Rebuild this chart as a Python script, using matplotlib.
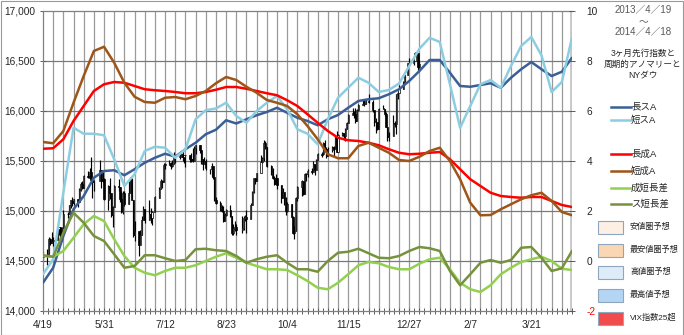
"""
NY Dow daily candles with 3-month leading index lines and cycle anomaly lines.
"""

import matplotlib
matplotlib.use("Agg")

import matplotlib.pyplot as plt
import numpy as np
import pandas as pd
from matplotlib.lines import Line2D
from matplotlib.patches import Rectangle

plt.rcParams["font.family"] = ["Liberation Sans", "Noto Sans CJK JP", "DejaVu Sans"]

# ==============================================================
# Data
# ==============================================================

START = pd.Timestamp("2013-04-19")
N_WEEKS = 52
HOLIDAYS = ["2013-05-27", "2013-07-04", "2013-09-02", "2013-11-28", "2013-12-25", "2014-01-01"]
PREV_CLOSE = 14537

# NY Dow daily close / high / low, 2013-04-19 .. 2014-01-03
dow_close = [
    14547, 14567, 14719, 14676, 14700, 14712, 14818, 14840,
    14700, 14831, 14973, 14968, 15056, 15105, 15083, 15118, 15091, 15215, 15275, 15233, 15354,
    15335, 15388, 15307, 15294, 15303, 15409, 15302, 15324, 15115,
    15254, 15177, 14960, 15040, 15248, 15239, 15122, 14995, 15176, 15070, 15180, 15318, 15112,
    14758, 14800, 14659, 14760, 14910, 15024, 14910,
    14975, 14932, 14988, 15135, 15225, 15300, 15291, 15461, 15464, 15484, 15452, 15471, 15548,
    15543, 15545, 15568, 15543, 15556, 15559, 15521, 15520, 15500,
    15628, 15658, 15612, 15519, 15471, 15498, 15425, 15419, 15451, 15337, 15112, 15081, 15010,
    15002, 14897, 14963, 15010, 14946, 14776, 14825, 14840, 14810,
    14834, 14930, 14938, 14922, 15063, 15191, 15327, 15300, 15376, 15494, 15529, 15677, 15636,
    15451, 15401, 15334, 15273, 15328, 15258, 15130,
    15192, 15133, 14997, 15073, 14936, 14776, 14803, 15127, 15237, 15301, 15168, 15374, 15372,
    15399, 15392, 15467, 15413, 15509, 15570, 15568, 15680, 15618, 15546,
    15615, 15639, 15618, 15747, 15594, 15761, 15783, 15751, 15822, 15876, 15962, 15976, 15968,
    15900, 16010, 16065, 16073, 16073, 16097, 16086,
    16008, 15915, 15889, 15822, 16020, 16025, 15973, 15844, 15740, 15755, 15885, 15875, 16168,
    16179, 16221, 16294, 16358, 16479, 16479, 16505, 16577,
    16441, 16470,
]
dow_high = [
    14600, 14620, 14740, 14730, 14790, 14740, 14840, 14845,
    14840, 14845, 15010, 14990, 15060, 15110, 15145, 15125, 15125, 15230, 15290, 15300, 15360,
    15400, 15430, 15542, 15307, 15310, 15510, 15409, 15390, 15330,
    15260, 15330, 15177, 15050, 15260, 15320, 15239, 15200, 15200, 15200, 15300, 15340, 15330,
    15112, 14900, 14800, 14810, 14950, 15050, 15024,
    15110, 15030, 15000, 15150, 15240, 15320, 15310, 15480, 15480, 15510, 15490, 15510, 15590,
    15550, 15570, 15600, 15600, 15560, 15560, 15559, 15580, 15630,
    15650, 15660, 15660, 15612, 15519, 15540, 15520, 15425, 15480, 15451, 15337, 15140, 15100,
    15060, 15050, 14980, 15020, 15060, 14946, 14870, 14900, 14870,
    14950, 14950, 14960, 15010, 15080, 15200, 15330, 15330, 15380, 15560, 15540, 15709, 15700,
    15640, 15460, 15430, 15350, 15370, 15328, 15258,
    15230, 15192, 15140, 15090, 15073, 14950, 14850, 15140, 15250, 15310, 15301, 15380, 15380,
    15420, 15430, 15500, 15467, 15520, 15580, 15590, 15690, 15710, 15640,
    15640, 15650, 15650, 15760, 15800, 15770, 15790, 15783, 15830, 15890, 15970, 16030, 16000,
    16030, 16020, 16070, 16110, 16110, 16110, 16175,
    16110, 16008, 15930, 15890, 16030, 16060, 16025, 15990, 15844, 15790, 15960, 15900, 16170,
    16200, 16260, 16300, 16360, 16480, 16530, 16510, 16590,
    16570, 16500,
]
dow_low = [
    14490, 14460, 14567, 14660, 14676, 14650, 14712, 14760,
    14690, 14700, 14831, 14930, 14968, 15030, 15050, 15060, 15040, 15091, 15200, 15220, 15233,
    15330, 15330, 15280, 15130, 15200, 15303, 15230, 15290, 15110,
    15010, 15120, 14940, 14840, 15040, 15200, 15090, 14980, 14975, 15050, 15070, 15180, 15110,
    14740, 14700, 14551, 14659, 14760, 14910, 14880,
    14910, 14880, 14860, 14988, 15135, 15225, 15230, 15291, 15420, 15460, 15420, 15440, 15471,
    15480, 15520, 15540, 15500, 15480, 15440, 15490, 15490, 15490,
    15500, 15570, 15580, 15470, 15410, 15471, 15410, 15370, 15350, 15320, 15100, 15070, 15000,
    14990, 14890, 14897, 14950, 14940, 14760, 14760, 14800, 14760,
    14780, 14810, 14900, 14780, 14922, 15063, 15180, 15270, 15300, 15376, 15480, 15500, 15620,
    15440, 15360, 15320, 15260, 15273, 15220, 15080,
    15130, 15060, 14960, 14990, 14930, 14770, 14720, 14803, 15100, 15150, 15160, 15168, 15300,
    15340, 15370, 15392, 15360, 15413, 15509, 15540, 15568, 15600, 15530,
    15546, 15590, 15550, 15618, 15590, 15594, 15750, 15710, 15700, 15822, 15876, 15960, 15930,
    15880, 15900, 16000, 16060, 16050, 16073, 16080,
    15990, 15850, 15780, 15810, 15822, 16020, 15950, 15840, 15700, 15700, 15755, 15840, 15770,
    16120, 16179, 16221, 16294, 16358, 16470, 16460, 16500,
    16410, 16430,
]

# Weekly index lines (right axis), week 0 .. 52
long_s = [
    -0.87, -0.27, 1.00, 2.07, 2.60, 3.33, 3.60, 3.63, 3.43, 3.67, 3.93, 4.13, 4.29, 4.17,
    4.47, 4.73, 5.07, 5.25, 5.63, 5.50, 5.67, 5.83, 5.96, 6.13, 5.93, 5.73, 5.60, 5.43,
    5.67, 5.84, 6.13, 6.40, 6.47, 6.51, 6.67, 6.87, 7.20, 7.60, 8.04, 8.04, 7.53, 7.00,
    6.97, 7.04, 7.11, 6.93, 7.33, 7.67, 7.96, 7.67, 7.40, 7.57, 8.13,
]
short_s = [
    -0.53, 0.07, 2.73, 5.33, 5.09, 5.09, 5.03, 4.07, 3.00, 3.47, 4.40, 4.57, 4.53, 4.13,
    4.47, 5.67, 6.03, 6.10, 6.33, 5.80, 5.53, 6.00, 6.33, 6.60, 6.07, 5.27, 5.09, 4.67,
    5.67, 6.53, 6.93, 7.33, 7.13, 6.76, 6.84, 7.10, 7.80, 8.49, 8.93, 8.76, 7.07, 5.33,
    6.20, 7.07, 7.24, 6.93, 7.80, 8.60, 8.96, 8.23, 6.76, 7.16, 8.93,
]
long_g = [
    4.49, 4.51, 4.87, 5.60, 6.20, 6.80, 7.07, 7.16, 7.13, 7.00, 6.87, 6.83, 6.80, 6.76,
    6.71, 6.71, 6.76, 6.85, 6.96, 6.96, 6.89, 6.80, 6.71, 6.63, 6.43, 6.20, 5.87, 5.53,
    5.20, 4.93, 4.83, 4.80, 4.73, 4.63, 4.47, 4.33, 4.27, 4.29, 4.33, 4.36, 4.07, 3.67,
    3.27, 3.00, 2.73, 2.60, 2.56, 2.53, 2.56, 2.56, 2.40, 2.24, 2.16,
]
short_g = [
    4.76, 4.71, 5.20, 6.33, 7.40, 8.40, 8.57, 7.93, 7.13, 6.57, 6.36, 6.33, 6.53, 6.56,
    6.47, 6.60, 6.80, 7.11, 7.36, 7.24, 6.97, 6.73, 6.44, 6.33, 6.20, 5.87, 5.40, 4.87,
    4.27, 4.11, 4.11, 4.60, 4.73, 4.53, 4.33, 4.04, 4.00, 4.17, 4.40, 4.53, 4.00, 3.27,
    2.33, 1.83, 1.84, 2.07, 2.27, 2.47, 2.63, 2.73, 2.40, 1.96, 1.83,
]
diff_g = [
    0.20, 0.17, 0.40, 0.93, 1.47, 1.80, 1.60, 0.87, 0.20, -0.27, -0.47, -0.57, -0.40, -0.27,
    -0.27, -0.17, 0.00, 0.17, 0.31, 0.13, -0.07, -0.20, -0.33, -0.33, -0.36, -0.57, -0.80, -1.07,
    -1.13, -0.87, -0.53, -0.17, -0.04, -0.09, -0.24, -0.33, -0.33, -0.11, 0.07, 0.13, -0.33, -0.87,
    -1.13, -1.24, -0.97, -0.53, -0.27, -0.04, 0.07, 0.17, 0.00, -0.31, -0.36,
]
diff_s = [
    0.23, 0.17, 1.13, 1.93, 1.53, 1.00, 0.80, 0.27, -0.27, -0.20, 0.23, 0.23, 0.11, 0.00,
    0.04, 0.47, 0.49, 0.43, 0.40, 0.20, -0.07, 0.07, 0.17, 0.23, -0.07, -0.33, -0.33, -0.43,
    0.00, 0.33, 0.37, 0.49, 0.31, 0.13, 0.11, 0.20, 0.40, 0.56, 0.51, 0.40, -0.40, -0.97,
    -0.53, -0.07, 0.04, -0.07, 0.04, 0.53, 0.56, 0.13, -0.40, -0.29, 0.40,
]

x_labels = ["4/19", "5/31", "7/12", "8/23", "10/4", "11/15", "12/27", "2/7", "3/21"]
left_ticks = [14000, 14500, 15000, 15500, 16000, 16500, 17000]
right_ticks = [-2, 0, 2, 4, 6, 8, 10]

line_series = [
    ("長スA", long_s, "#3A5F96"),
    ("短スA", short_s, "#8DCDE2"),
    ("長成A", long_g, "#FF0000"),
    ("短成A", short_g, "#9E5518"),
    ("成短長差", diff_g, "#92D050"),
    ("ス短長差", diff_s, "#76923C"),
]
zone_boxes = [
    ("安値圏予想", "#FDEFE3"),
    ("最安値圏予想", "#FAD6B4"),
    ("高値圏予想", "#DEEBF8"),
    ("最高値予想", "#B5D5F5"),
    ("VIX指数25超", "#F24B4B"),
]

W, H = 684, 335
GRID_V = "#9A9A9A"
GRID_H = "#7A7A7A"
TEXT = "#262626"


def trading_days():
    days = pd.bdate_range(START, "2014-01-03")
    days = days[~days.isin(pd.to_datetime(HOLIDAYS))]
    return (days - START).days.values / 7.0


# ==============================================================
# Chart
# ==============================================================

fig = plt.figure(figsize=(W / 100, H / 100), dpi=100)
fig.patches.append(Rectangle((0.5 / W, 0.5 / H), 1 - 1.5 / W, 1 - 1.5 / H, transform=fig.transFigure,
                             fill=False, edgecolor="#9A9A9A", linewidth=0.8))

ax = fig.add_axes([43 / W, (H - 311) / H, (572 - 43) / W, 300 / H])
ax.set_xlim(0, N_WEEKS)
ax.set_ylim(14000, 17000)

# weekly vertical grid + horizontal grid every 500
for w in range(1, N_WEEKS):
    ax.axvline(w, color=GRID_V, linewidth=0.9, zorder=0)
for v in left_ticks[1:-1]:
    ax.axhline(v, color=GRID_H, linewidth=0.9, zorder=0)
ax.axvline(N_WEEKS, color="#C8C8C8", linewidth=3.5, zorder=0)

# daily candles
xd = trading_days()
close = np.array(dow_close, dtype=float)
opens = np.concatenate([[PREV_CLOSE], close[:-1]])
ax.vlines(xd, dow_low, dow_high, color="black", linewidth=0.85, zorder=2)
body = close - opens
up = body >= 0
ax.bar(xd[up], np.maximum(body[up], 8), bottom=opens[up], width=0.11, color="white",
       edgecolor="black", linewidth=0.5, zorder=3)
ax.bar(xd[~up], np.minimum(body[~up], -8), bottom=opens[~up], width=0.11, color="black",
       edgecolor="black", linewidth=0.5, zorder=3)

ax.set_yticks(left_ticks)
ax.set_yticklabels([f"{v:,}" for v in left_ticks], fontsize=7.3, color=TEXT)
ax.set_xticks(np.arange(0, 49, 6))
ax.set_xticklabels(x_labels, fontsize=7.3, color=TEXT)
ax.set_xticks(np.arange(0, N_WEEKS + 0.01, 0.5), minor=True)
ax.tick_params(axis="x", which="both", direction="inout", length=5, width=0.7, color="#595959", pad=4)
ax.tick_params(axis="y", direction="inout", length=5, width=0.7, color="#595959", pad=3)
for side in ["left", "top", "bottom"]:
    ax.spines[side].set_color("#808080")
    ax.spines[side].set_linewidth(0.9)
ax.spines["right"].set_visible(False)

# index lines on the right axis
ax2 = ax.twinx()
ax2.set_ylim(-2, 10)
weeks = np.arange(len(long_s))
for name, vals, color in line_series:
    ax2.plot(weeks, vals, color=color, linewidth=1.8, solid_joinstyle="round",
             solid_capstyle="round", zorder=4)
ax2.set_yticks(right_ticks)
ax2.set_yticklabels([str(v) for v in right_ticks], fontsize=7.3, color=TEXT)
ax2.get_yticklabels()[0].set_color("#FF0000")
ax2.tick_params(axis="y", direction="inout", length=5, width=0.7, color="#595959", pad=8)
for side in ["left", "top", "bottom", "right"]:
    ax2.spines[side].set_visible(False)

# ==============================================================
# Side legend (pixel coordinates)
# ==============================================================

lg = fig.add_axes([0, 0, 1, 1], facecolor="none")
lg.set_xlim(0, W)
lg.set_ylim(H, 0)
lg.axis("off")

cx = 643
for y, txt in [(10, "2013／4／19"), (21, "～"), (32, "2014／4／18")]:
    lg.text(cx, y, txt, ha="center", va="center", fontsize=7, color="#595959")
for y, txt in [(53, "3ヶ月先行指数と"), (64, "周期的アノマリーと"), (75, "NYダウ")]:
    lg.text(cx, y, txt, ha="center", va="center", fontsize=6.2, color=TEXT)

line_rows = [107, 120, 154, 171, 188, 204]
for (name, _, color), y in zip(line_series, line_rows):
    lg.add_line(Line2D([611, 631], [y, y], color=color, linewidth=1.8))
    lg.text(631, y, name, ha="left", va="center", fontsize=6.8, color=TEXT)

box_rows = [227, 250, 272, 295, 318]
for (name, color), y in zip(zone_boxes, box_rows):
    lg.add_patch(Rectangle((598, y - 6.5), 25, 13, facecolor=color, edgecolor="#8FA6BF", linewidth=0.8))
    lg.text(630, y, name, ha="left", va="center", fontsize=5.9, color=TEXT)

fig.savefig("out.png", dpi=100)
